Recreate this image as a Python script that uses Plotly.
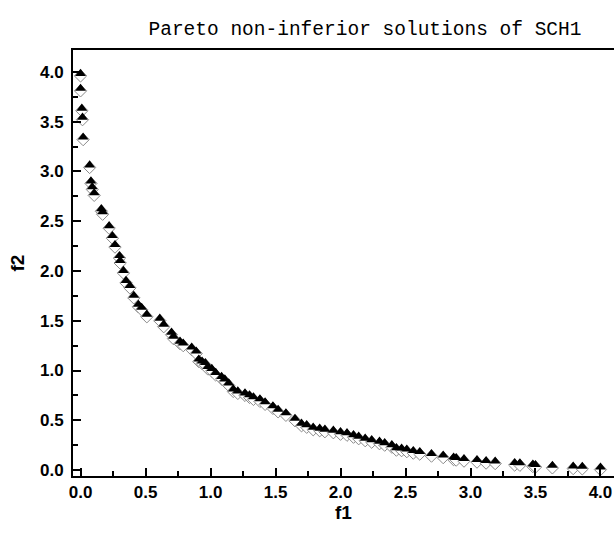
import plotly.graph_objects as go

# Pareto front points (f1, f2)
f1 = [0.00, 0.00, 0.01, 0.015, 0.02, 0.07, 0.08, 0.09, 0.105, 0.16, 0.17, 0.22,
      0.245, 0.265, 0.30, 0.305, 0.33, 0.35, 0.38, 0.41, 0.445, 0.47, 0.51, 0.61,
      0.64, 0.70, 0.715, 0.765, 0.79, 0.855, 0.89, 0.91, 0.935, 0.96, 0.98, 1.01,
      1.04, 1.085, 1.11, 1.14, 1.175, 1.21, 1.265, 1.30, 1.33, 1.38, 1.42, 1.48,
      1.52, 1.58, 1.65, 1.70, 1.74, 1.79, 1.84, 1.88, 1.945, 2.00, 2.05, 2.10,
      2.14, 2.19, 2.24, 2.30, 2.34, 2.395, 2.43, 2.47, 2.51, 2.56, 2.61, 2.70,
      2.79, 2.87, 2.89, 2.95, 3.05, 3.12, 3.19, 3.34, 3.38, 3.48, 3.50, 3.63,
      3.79, 3.86, 4.00]
f2 = [3.96, 3.81, 3.61, 3.52, 3.32, 3.04, 2.88, 2.82, 2.76, 2.60, 2.57, 2.43,
      2.33, 2.24, 2.13, 2.08, 1.98, 1.88, 1.83, 1.73, 1.64, 1.61, 1.54, 1.50,
      1.44, 1.36, 1.32, 1.27, 1.25, 1.21, 1.17, 1.09, 1.07, 1.055, 1.015, 0.995,
      0.955, 0.915, 0.89, 0.85, 0.79, 0.77, 0.75, 0.73, 0.71, 0.69, 0.66, 0.62,
      0.585, 0.55, 0.495, 0.445, 0.43, 0.405, 0.395, 0.385, 0.375, 0.36, 0.35, 0.33,
      0.315, 0.295, 0.28, 0.265, 0.25, 0.23, 0.20, 0.195, 0.185, 0.17, 0.16, 0.14,
      0.125, 0.105, 0.10, 0.09, 0.08, 0.07, 0.065, 0.05, 0.048, 0.035, 0.03, 0.022,
      0.015, 0.012, 0.005]

title_text = "Pareto non-inferior solutions of SCH1"
x_label = "f1"
y_label = "f2"

W, H = 614, 533
ml, mr, mt, mb = 73, 0, 50, 57
xr = [-0.058, 4.104]
yr = [-0.06, 4.22]
plot_h = H - mt - mb
dia_size = 9.5
tri_size = 9.5
shift_px = tri_size / 4.0
dy = shift_px * (yr[1] - yr[0]) / plot_h

fig = go.Figure()
# lower (open) half of the half-filled diamond
fig.add_trace(go.Scatter(
    x=f1, y=f2, mode="markers", showlegend=False,
    marker=dict(symbol="diamond", size=dia_size, color="white",
                line=dict(color="#8a8a8a", width=1)),
    xaxis="x", yaxis="y"))
# filled upper half
fig.add_trace(go.Scatter(
    x=f1, y=f2, mode="markers", showlegend=False,
    marker=dict(symbol="triangle-up", size=tri_size, color="black",
                line=dict(width=0)),
    xaxis="x", yaxis="y2"))

tickfont = dict(family="Liberation Sans", size=17, color="black", weight="bold")
titlefont = dict(family="Liberation Sans", size=19, color="black", weight="bold")
fig.update_layout(
    width=W, height=H,
    margin=dict(l=ml, r=mr, t=mt, b=mb),
    paper_bgcolor="white", plot_bgcolor="white",
    title=dict(text=title_text, x=365 / W, xanchor="center", xref="container",
               y=1 - 28 / H, yanchor="middle",
               font=dict(family="Liberation Mono", size=19.5, color="black")),
    xaxis=dict(range=xr, showgrid=False, zeroline=False,
               showline=True, linecolor="black", linewidth=2, mirror=True,
               ticks="inside", ticklen=8, tickwidth=2, tickcolor="black",
               tick0=0, dtick=0.5, tickformat=".1f", tickfont=tickfont,
               minor=dict(ticks="inside", ticklen=5, tickwidth=1.5, tickcolor="black", dtick=0.25, tick0=0),
               title=dict(text=x_label, standoff=2, font=titlefont)),
    yaxis=dict(range=yr, showgrid=False, zeroline=False,
               showline=True, linecolor="black", linewidth=2,
               ticks="inside", ticklen=8, tickwidth=2, tickcolor="black",
               tick0=0, dtick=0.5, tickformat=".1f", tickfont=tickfont,
               ticklabelstandoff=4,
               minor=dict(ticks="inside", ticklen=5, tickwidth=1.5, tickcolor="black", dtick=0.25, tick0=0),
               title=dict(text=y_label, standoff=10, font=titlefont)),
    yaxis2=dict(range=[yr[0] - dy, yr[1] - dy], overlaying="y", visible=False),
)

fig.write_html("out.html")
